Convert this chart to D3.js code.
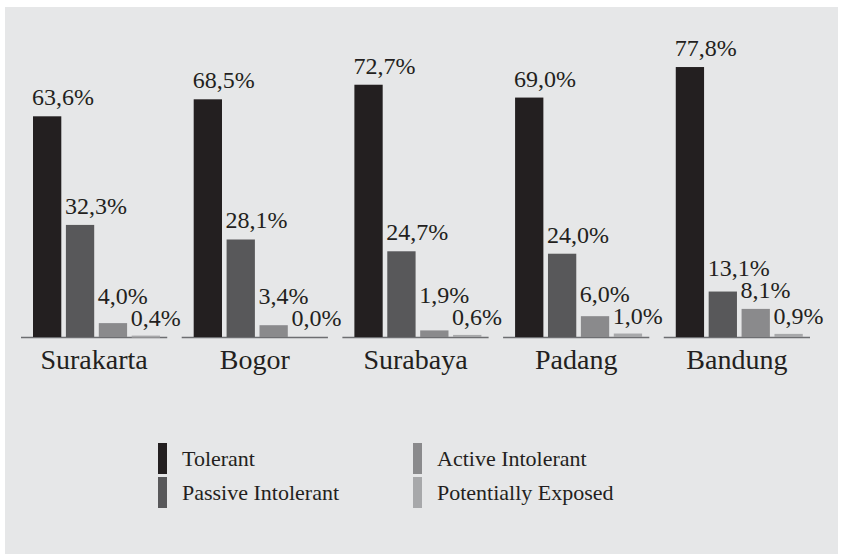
<!DOCTYPE html>
<html lang="en">
  <head>
    <meta charset="UTF-8" />
    <title>Tolerance by City</title>
    <script src="https://d3js.org/d3.v7.min.js"></script>
    <style>
      body { margin: 0; background: #fff; }
      text { fill: #231f20; }
    </style>
  </head>
  <body>
    <svg id="chart" width="843" height="554"></svg>

    <script>
      // data
      const cities = ["Surakarta", "Bogor", "Surabaya", "Padang", "Bandung"];
      const series = ["Tolerant", "Passive Intolerant", "Active Intolerant", "Potentially Exposed"];
      const tolerant = [63.6, 68.5, 72.7, 69.0, 77.8];
      const passive = [32.3, 28.1, 24.7, 24.0, 13.1];
      const active = [4.0, 3.4, 1.9, 6.0, 8.1];
      const exposed = [0.4, 0.0, 0.6, 1.0, 0.9];
      const colors = ["#231f20", "#58585a", "#8a8a8c", "#a7a8aa"];

      const serif = "'Liberation Serif', 'DejaVu Serif', 'Noto Serif', serif";
      const values = [tolerant, passive, active, exposed];
      const rows = cities.map((c, i) => ({
        city: c,
        vals: series.map((s, j) => ({ key: s, value: values[j][i], color: colors[j] }))
      }));

      const svg = d3.select("#chart");

      // grey panel
      svg.append("rect")
        .attr("x", 5).attr("y", 7)
        .attr("width", 833).attr("height", 547)
        .attr("fill", "#e6e7e8");

      const baseY = 337;
      const x0 = d3.scaleBand().domain(cities).range([21, 810]).paddingInner(0.09).paddingOuter(0);
      const x1 = d3.scaleBand().domain(series).range([12, 139]).paddingInner(0.14);
      const y = d3.scaleLinear().domain([0, 80]).range([baseY, baseY - 80 * 3.47]);

      const fmt = v => v.toFixed(1).replace(".", ",") + "%";

      // labels stagger upward so neighbours don't collide (as in the print)
      rows.forEach(r => {
        let prev = Infinity;
        for (let j = r.vals.length - 1; j >= 0; j--) {
          const top = Math.min(y(r.vals[j].value), baseY - 1);
          const ly = Math.min(top - (j === r.vals.length - 1 ? 10 : 11), prev - 22);
          r.vals[j].ly = ly;
          prev = ly;
        }
      });

      const g = svg.selectAll("g.city")
        .data(rows)
        .join("g")
        .attr("class", "city")
        .attr("transform", d => `translate(${x0(d.city)},0)`);

      // baseline under each group
      g.append("line")
        .attr("x1", 0).attr("x2", x0.bandwidth())
        .attr("y1", baseY + 0.5).attr("y2", baseY + 0.5)
        .attr("stroke", "#6d6e71")
        .attr("stroke-width", 1.5);

      g.selectAll("rect")
        .data(d => d.vals)
        .join("rect")
        .attr("x", d => x1(d.key))
        .attr("y", d => y(d.value))
        .attr("width", x1.bandwidth())
        .attr("height", d => Math.max(baseY - y(d.value), d.value > 0 ? 2 : 0))
        .attr("fill", d => d.color);

      g.selectAll("text.val")
        .data(d => d.vals)
        .join("text")
        .attr("class", "val")
        .attr("x", d => x1(d.key) - 1)
        .attr("y", d => d.ly)
        .attr("font-family", serif)
        .attr("font-size", 24)
        .text(d => fmt(d.value));

      g.append("text")
        .attr("x", x0.bandwidth() / 2)
        .attr("y", 369)
        .attr("text-anchor", "middle")
        .attr("font-family", serif)
        .attr("font-size", 28)
        .text(d => d.city);

      // legend, two columns
      const legend = svg.selectAll("g.leg")
        .data(series)
        .join("g")
        .attr("class", "leg")
        .attr("transform", (d, i) => `translate(${i < 2 ? 158 : 413},${i % 2 === 0 ? 443 : 477})`);

      legend.append("rect")
        .attr("width", 9).attr("height", 31)
        .attr("fill", (d, i) => colors[i]);

      legend.append("text")
        .attr("x", 24).attr("y", 23)
        .attr("font-family", serif)
        .attr("font-size", 22)
        .text(d => d);
    </script>
  </body>
</html>
